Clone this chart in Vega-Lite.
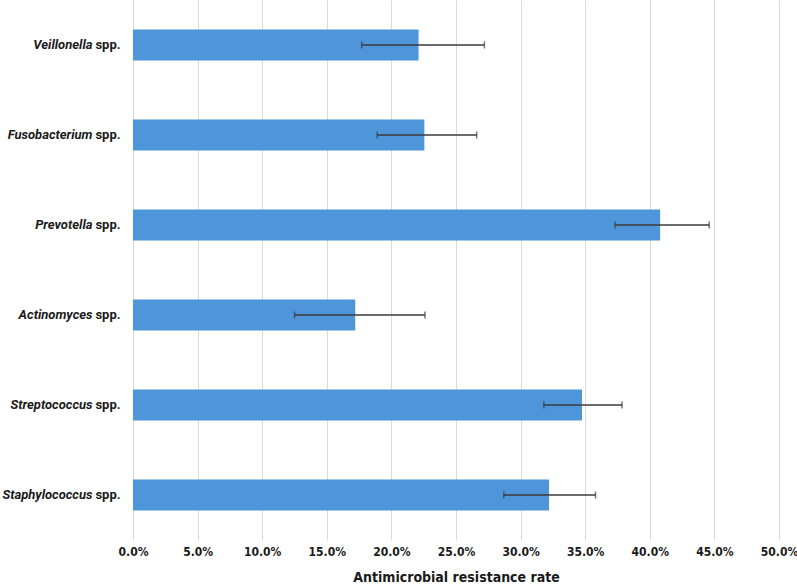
{
  "$schema": "https://vega.github.io/schema/vega-lite/v6.json",
  "width": 646,
  "height": 540,
  "autosize": {"type": "none"},
  "padding": {"left": 133, "top": 0, "right": 18, "bottom": 46},
  "background": "white",
  "config": {
    "view": {"stroke": null},
    "axis": {"labelColor": "#1a1a1a", "titleColor": "#1a1a1a"}
  },
  "data": {
    "values": [
      {"genus": "Veillonella", "rate": 0.221, "low": 0.177, "high": 0.272},
      {"genus": "Fusobacterium", "rate": 0.2255, "low": 0.189, "high": 0.266},
      {"genus": "Prevotella", "rate": 0.408, "low": 0.373, "high": 0.446},
      {"genus": "Actinomyces", "rate": 0.172, "low": 0.125, "high": 0.226},
      {"genus": "Streptococcus", "rate": 0.3475, "low": 0.318, "high": 0.3785},
      {"genus": "Staphylococcus", "rate": 0.322, "low": 0.287, "high": 0.358}
    ]
  },
  "resolve": {"scale": {"y": "independent"}},
  "layer": [
    {
      "mark": {"type": "bar", "color": "#4e95d9"},
      "encoding": {
        "y": {
          "field": "genus",
          "type": "nominal",
          "sort": null,
          "scale": {"paddingInner": 0.655, "paddingOuter": 0.3275},
          "axis": {
            "orient": "left",
            "title": null,
            "domain": false,
            "ticks": false,
            "labelExpr": "'spp.'",
            "labelFont": "Roboto",
            "labelFontWeight": "bold",
            "labelFontSize": 13,
            "labelPadding": 13
          }
        },
        "x": {
          "field": "rate",
          "type": "quantitative",
          "title": "Antimicrobial resistance rate",
          "scale": {"domain": [0, 0.5], "nice": false},
          "axis": {
            "format": ".1%",
            "values": [0, 0.05, 0.1, 0.15, 0.2, 0.25, 0.3, 0.35, 0.4, 0.45, 0.5],
            "domain": false,
            "ticks": false,
            "grid": true,
            "gridColor": "#d9d9d9",
            "gridWidth": 1,
            "labelFlush": false,
            "labelFont": "Liberation Sans Narrow, DejaVu Sans Condensed, sans-serif",
            "labelFontWeight": "bold",
            "labelFontSize": 12,
            "labelPadding": 6,
            "titleFont": "Liberation Sans Narrow, DejaVu Sans Condensed, sans-serif",
            "titleFontWeight": "bold",
            "titleFontSize": 14,
            "titlePadding": 13
          }
        }
      }
    },
    {
      "mark": {
        "type": "errorbar",
        "color": "#3a3a3a",
        "thickness": 1.5,
        "ticks": {"size": 7, "thickness": 1.5, "color": "#3a3a3a"}
      },
      "encoding": {
        "y": {
          "field": "genus",
          "type": "nominal",
          "sort": null,
          "axis": {
            "orient": "left",
            "title": null,
            "domain": false,
            "ticks": false,
            "grid": false,
            "labelFont": "Roboto",
            "labelFontWeight": "bold",
            "labelFontStyle": "italic",
            "labelFontSize": 13,
            "labelPadding": 41
          }
        },
        "x": {
          "field": "low",
          "type": "quantitative",
          "title": "Antimicrobial resistance rate",
          "scale": {"domain": [0, 0.5], "nice": false}
        },
        "x2": {"field": "high"}
      }
    }
  ]
}
